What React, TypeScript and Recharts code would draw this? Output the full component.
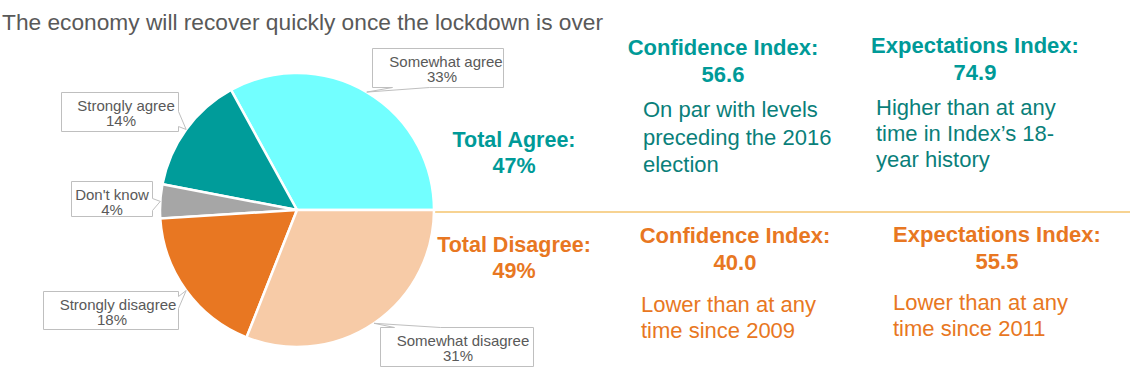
import React from 'react';
import { Cell, Customized, Pie, PieChart } from 'recharts';

// Survey answers, counter-clockwise from 3 o'clock
const responseNames = ['Somewhat agree', 'Strongly agree', "Don't know", 'Strongly disagree', 'Somewhat disagree'];
const responseShares = [33, 14, 4, 18, 31];
const sliceColors = ['#72FFFF', '#009C9A', '#A6A6A6', '#E87722', '#F7CBA7'];

const indexNames = ['Confidence Index:', 'Expectations Index:'];
const agreeIndexValues = ['56.6', '74.9'];
const disagreeIndexValues = ['40.0', '55.5'];
const agreeNotes = [
  ['On par with levels', 'preceding the 2016', 'election'],
  ['Higher than at any', 'time in Index\u2019s 18-', 'year history']
];
const disagreeNotes = [
  ['Lower than at any', 'time since 2009'],
  ['Lower than at any', 'time since 2011']
];

const FONT = '"Liberation Sans", Arial, sans-serif';
const TEAL = '#009A98';
const TEAL_DARK = '#0A7F7A';
const ORANGE = '#E87722';
const GREY_TEXT = '#595959';
const RADIAN = Math.PI / 180;

type Side = 'top' | 'right' | 'bottom';
interface Callout {
  dx: number;
  dy: number;
  w: number;
  h: number;
  side: Side;
  a: number;
  b: number;
  s1: number;
  s2: number;
}

// box placement relative to the slice tip, where the pointer joins the box, text nudges
const callouts: Callout[] = [
  { dx: 5, dy: -44, w: 131, h: 39, side: 'bottom', a: 20, b: 57, s1: 8, s2: 4 },
  { dx: -125, dy: -37, w: 117, h: 39, side: 'right', a: 19, b: 34, s1: 6, s2: 1 },
  { dx: -89, dy: -20, w: 81, h: 35, side: 'right', a: 17, b: 29, s1: 0, s2: 0 },
  { dx: -143, dy: 0, w: 135, h: 38, side: 'right', a: 5, b: 17, s1: 7, s2: 1 },
  { dx: 6, dy: 4, w: 153, h: 39, side: 'top', a: 14, b: 60, s1: 6, s2: 1 }
];

const pieData = responseNames.map((name, i) => ({ name, value: responseShares[i] }));
const agreeTotal = responseShares[0] + responseShares[1];
const disagreeTotal = responseShares[3] + responseShares[4];

const calloutPath = (x: number, y: number, c: Callout, tx: number, ty: number): string => {
  const { w, h, side, a, b } = c;
  if (side === 'top') {
    return `M${x},${y} L${x + a},${y} L${tx},${ty} L${x + b},${y} L${x + w},${y} L${x + w},${y + h} L${x},${y + h} Z`;
  }
  if (side === 'right') {
    return `M${x},${y} L${x + w},${y} L${x + w},${y + a} L${tx},${ty} L${x + w},${y + b} L${x + w},${y + h} L${x},${y + h} Z`;
  }
  return `M${x},${y} L${x + w},${y} L${x + w},${y + h} L${x + b},${y + h} L${tx},${ty} L${x + a},${y + h} L${x},${y + h} Z`;
};

const renderCallout = (props: any) => {
  const { cx, cy, midAngle, outerRadius, index } = props;
  const c = callouts[index];
  const tx = cx + outerRadius * Math.cos(-midAngle * RADIAN);
  const ty = cy + outerRadius * Math.sin(-midAngle * RADIAN);
  const x = Math.round(tx + c.dx) + 0.5;
  const y = Math.round(ty + c.dy) + 0.5;
  const mid = x + c.w / 2;
  return (
    <g key={`callout-${index}`}>
      <path d={calloutPath(x, y, c, tx, ty)} fill="#fff" stroke="#BFBFBF" strokeWidth={1} />
      <text x={mid + c.s1} y={y + 18} textAnchor="middle" fontFamily={FONT} fontSize={15} fill={GREY_TEXT}>
        {responseNames[index]}
      </text>
      <text x={mid + c.s2} y={y + 33} textAnchor="middle" fontFamily={FONT} fontSize={15} fill={GREY_TEXT}>
        {`${responseShares[index]}%`}
      </text>
    </g>
  );
};

const Annotations = () => (
  <g fontFamily={FONT}>
    <text x={2} y={30} fontSize={22.5} fill={GREY_TEXT} textLength={601} lengthAdjust="spacingAndGlyphs">
      The economy will recover quickly once the lockdown is over
    </text>
    <line x1={434} y1={212} x2={1130} y2={212} stroke="#F5C46E" strokeWidth={1.5} />

    {/* totals */}
    <g fontWeight="bold" fontSize={21.5} textAnchor="middle">
      <text x={514} y={147} fill={TEAL}>Total Agree:</text>
      <text x={514} y={173} fill={TEAL}>{`${agreeTotal}%`}</text>
      <text x={514} y={252} fill={ORANGE}>Total Disagree:</text>
      <text x={514} y={278} fill={ORANGE}>{`${disagreeTotal}%`}</text>
    </g>

    {/* agree side index panels */}
    {[{ cx: 723, top: 55, nx: 643, nTop: 117, step: 27.5 }, { cx: 975, top: 53, nx: 876, nTop: 115, step: 26 }].map((p, i) => (
      <g key={`agree-${i}`}>
        <text x={p.cx} y={p.top} textAnchor="middle" fontWeight="bold" fontSize={22} fill={TEAL}>
          {indexNames[i]}
        </text>
        <text x={p.cx} y={p.top + 27} textAnchor="middle" fontWeight="bold" fontSize={22} fill={TEAL}>
          {agreeIndexValues[i]}
        </text>
        {agreeNotes[i].map((line, j) => (
          <text key={j} x={p.nx} y={p.nTop + j * p.step} fontSize={22} fill={TEAL_DARK}>
            {line}
          </text>
        ))}
      </g>
    ))}

    {/* disagree side index panels */}
    {[{ cx: 735, top: 243, nx: 641, nTop: 312 }, { cx: 997, top: 242, nx: 893, nTop: 310 }].map((p, i) => (
      <g key={`disagree-${i}`}>
        <text x={p.cx} y={p.top} textAnchor="middle" fontWeight="bold" fontSize={22} fill={ORANGE}>
          {indexNames[i]}
        </text>
        <text x={p.cx} y={p.top + 27} textAnchor="middle" fontWeight="bold" fontSize={22} fill={ORANGE}>
          {disagreeIndexValues[i]}
        </text>
        {disagreeNotes[i].map((line, j) => (
          <text key={j} x={p.nx} y={p.nTop + j * 25.5} fontSize={22} fill={ORANGE}>
            {line}
          </text>
        ))}
      </g>
    ))}
  </g>
);

export default function App() {
  return (
    <div style={{ position: 'absolute', left: 0, top: 0, width: 1138, height: 384, background: '#fff' }}>
      <PieChart width={1138} height={384} margin={{ top: 0, right: 0, bottom: 0, left: 0 }}>
        <Customized component={Annotations} />
        <Pie
          data={pieData}
          dataKey="value"
          nameKey="name"
          cx={297}
          cy={210}
          outerRadius={137}
          startAngle={0}
          endAngle={360}
          stroke="#fff"
          strokeWidth={2.5}
          label={renderCallout}
          labelLine={false}
          isAnimationActive={false}
        >
          {pieData.map((d, i) => (
            <Cell key={d.name} fill={sliceColors[i]} />
          ))}
        </Pie>
      </PieChart>
    </div>
  );
}
